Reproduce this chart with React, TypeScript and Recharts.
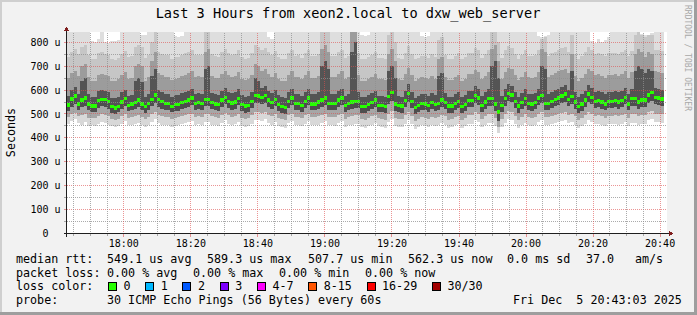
import React from 'react';
import { ComposedChart, Bar, XAxis, YAxis, CartesianGrid, ReferenceLine } from 'recharts';

// one value per minute, 17:43 -> 20:42 (microseconds)
const medianRtt = [
  537, 562, 575, 542, 558, 567, 542, 533, 533, 556,
  561, 561, 553, 530, 525, 532, 550, 564, 536, 542,
  549, 558, 542, 530, 543, 561, 580, 561, 553, 544,
  544, 531, 539, 539, 547, 553, 558, 567, 544, 547,
  543, 561, 561, 547, 542, 540, 558, 569, 553, 546,
  550, 565, 539, 533, 536, 553, 576, 575, 569, 578,
  558, 547, 561, 539, 531, 528, 553, 567, 544, 544,
  536, 553, 567, 542, 542, 550, 558, 567, 544, 544,
  544, 558, 567, 536, 544, 550, 553, 553, 531, 531,
  539, 547, 558, 536, 536, 531, 572, 589, 542, 536,
  533, 556, 585, 553, 528, 536, 544, 542, 536, 549,
  539, 544, 558, 547, 533, 533, 544, 553, 531, 539,
  556, 556, 578, 567, 536, 550, 564, 564, 542, 508,
  536, 564, 586, 580, 553, 533, 547, 564, 544, 542,
  547, 567, 578, 544, 544, 553, 561, 567, 575, 583,
  561, 572, 550, 531, 542, 558, 583, 569, 553, 556,
  550, 542, 553, 553, 556, 550, 556, 569, 542, 564,
  564, 550, 558, 558, 579, 589, 569, 567, 562,
];

// smoke: lowest ping
const smokeMin = [
  460, 470, 478, 462, 455, 468, 450, 452, 448, 460,
  466, 462, 455, 448, 445, 450, 458, 470, 452, 455,
  458, 462, 454, 444, 452, 466, 478, 462, 456, 452,
  456, 446, 450, 452, 458, 462, 466, 470, 452, 458,
  452, 466, 468, 456, 452, 448, 462, 474, 460, 455,
  458, 468, 450, 444, 448, 460, 476, 476, 470, 478,
  462, 456, 466, 450, 444, 440, 462, 470, 452, 455,
  448, 460, 470, 452, 452, 456, 462, 470, 452, 454,
  450, 462, 470, 446, 452, 456, 460, 460, 444, 442,
  450, 456, 462, 448, 444, 440, 466, 478, 448, 444,
  444, 460, 476, 458, 438, 444, 452, 450, 446, 454,
  450, 452, 462, 456, 442, 444, 452, 458, 440, 448,
  460, 460, 474, 468, 446, 456, 464, 464, 448, 420,
  446, 464, 478, 476, 458, 442, 454, 464, 452, 450,
  454, 466, 474, 452, 452, 458, 462, 466, 472, 476,
  462, 468, 456, 442, 450, 460, 476, 468, 458, 460,
  456, 450, 458, 458, 460, 456, 460, 468, 450, 464,
  464, 456, 460, 460, 474, 478, 468, 466, 464,
];

// smoke: lower light / mid boundary
const smokeLo = [
  488, 500, 505, 490, 495, 498, 485, 482, 484, 492,
  498, 496, 490, 478, 475, 480, 490, 500, 484, 486,
  490, 496, 486, 478, 486, 498, 510, 496, 490, 486,
  488, 480, 484, 486, 490, 494, 498, 502, 486, 490,
  486, 498, 500, 490, 486, 484, 496, 504, 494, 488,
  490, 500, 484, 478, 482, 494, 508, 508, 504, 510,
  496, 490, 498, 484, 478, 474, 494, 502, 486, 488,
  482, 494, 502, 486, 486, 490, 496, 502, 486, 487,
  486, 496, 502, 480, 486, 490, 494, 494, 478, 476,
  484, 490, 496, 482, 480, 476, 500, 512, 482, 478,
  478, 494, 510, 492, 472, 478, 486, 485, 480, 488,
  484, 486, 496, 490, 476, 478, 486, 492, 476, 482,
  494, 494, 508, 502, 480, 490, 498, 498, 482, 445,
  480, 498, 512, 510, 492, 476, 488, 498, 486, 484,
  488, 500, 508, 486, 486, 492, 496, 500, 506, 510,
  496, 502, 490, 476, 484, 494, 510, 502, 492, 494,
  490, 484, 492, 492, 494, 490, 494, 502, 484, 498,
  498, 490, 494, 494, 508, 512, 502, 500, 498,
];

// smoke: bottom of the dark band under the median
const smokeDown = [
  512, 530, 540, 518, 528, 535, 515, 508, 510, 525,
  532, 530, 522, 505, 500, 508, 520, 534, 512, 515,
  520, 530, 515, 505, 515, 532, 548, 530, 522, 516,
  518, 507, 512, 514, 520, 526, 530, 538, 516, 520,
  515, 532, 534, 520, 515, 512, 530, 540, 525, 518,
  522, 536, 512, 506, 510, 525, 545, 546, 540, 548,
  530, 520, 532, 512, 505, 500, 525, 538, 516, 518,
  510, 525, 538, 515, 515, 522, 530, 538, 516, 517,
  516, 530, 538, 508, 516, 522, 525, 526, 505, 504,
  512, 520, 530, 510, 508, 505, 540, 555, 512, 508,
  506, 528, 552, 525, 500, 508, 516, 515, 508, 520,
  512, 516, 530, 520, 505, 506, 516, 525, 504, 512,
  528, 528, 548, 538, 508, 522, 535, 535, 512, 470,
  508, 535, 555, 550, 525, 505, 520, 535, 516, 514,
  520, 538, 548, 516, 516, 525, 532, 538, 545, 552,
  532, 542, 522, 504, 514, 530, 552, 540, 525, 528,
  522, 515, 525, 525, 528, 522, 528, 540, 515, 535,
  535, 522, 530, 530, 548, 556, 540, 538, 534,
];

// smoke: top of the dark band over the median
const smokeUp = [
  575, 600, 612, 585, 640, 650, 582, 572, 570, 596,
  600, 598, 590, 568, 565, 572, 590, 602, 576, 580,
  640, 650, 635, 570, 584, 660, 690, 600, 592, 584,
  584, 570, 578, 578, 586, 592, 598, 606, 584, 586,
  584, 690, 700, 588, 582, 580, 598, 608, 592, 586,
  590, 604, 578, 572, 576, 592, 650, 640, 608, 616,
  598, 586, 600, 578, 570, 568, 592, 606, 584, 584,
  576, 592, 606, 582, 582, 590, 700, 720, 690, 584,
  584, 598, 606, 576, 584, 760, 800, 592, 570, 570,
  578, 586, 598, 576, 576, 572, 680, 700, 650, 576,
  572, 596, 624, 592, 568, 576, 584, 582, 576, 588,
  578, 660, 670, 586, 572, 572, 584, 592, 570, 578,
  596, 596, 616, 606, 576, 590, 604, 700, 720, 650,
  576, 604, 624, 618, 592, 572, 586, 604, 584, 582,
  586, 606, 700, 690, 584, 592, 600, 606, 614, 620,
  600, 680, 590, 570, 582, 598, 620, 608, 592, 596,
  590, 582, 592, 592, 596, 590, 596, 608, 582, 604,
  680, 700, 690, 670, 690, 680, 608, 606, 602,
];

// smoke: top of the mid grey band
const smokeMid = [
  650, 670, 680, 660, 700, 710, 655, 640, 638, 665,
  668, 665, 660, 640, 636, 645, 662, 675, 648, 652,
  700, 710, 700, 640, 655, 720, 760, 670, 662, 655,
  655, 642, 648, 650, 658, 664, 670, 678, 655, 658,
  655, 760, 770, 660, 652, 650, 668, 680, 664, 656,
  660, 676, 648, 642, 646, 664, 710, 700, 678, 688,
  668, 656, 672, 648, 640, 638, 664, 678, 654, 655,
  646, 664, 678, 652, 652, 660, 770, 790, 760, 654,
  654, 668, 678, 646, 654, 843, 843, 664, 640, 640,
  648, 656, 668, 646, 646, 642, 750, 770, 720, 646,
  642, 666, 694, 662, 638, 646, 654, 652, 646, 660,
  648, 730, 740, 656, 642, 642, 654, 664, 640, 648,
  666, 666, 686, 676, 646, 660, 676, 770, 790, 720,
  646, 676, 694, 688, 662, 642, 656, 676, 654, 652,
  656, 676, 770, 760, 654, 664, 670, 678, 684, 690,
  670, 750, 660, 640, 652, 668, 690, 678, 662, 666,
  660, 652, 664, 664, 666, 660, 668, 678, 652, 674,
  750, 770, 760, 740, 760, 750, 678, 676, 672,
];

// smoke: top of the light-mid band
const smokeHi = [
  740, 760, 770, 750, 780, 790, 745, 730, 728, 755,
  758, 750, 745, 730, 726, 735, 752, 765, 738, 742,
  780, 790, 780, 735, 745, 800, 843, 760, 752, 745,
  745, 732, 738, 740, 748, 754, 760, 768, 745, 748,
  745, 843, 843, 750, 742, 740, 758, 770, 754, 746,
  750, 766, 738, 732, 736, 754, 790, 780, 768, 778,
  758, 746, 762, 738, 730, 728, 754, 768, 744, 745,
  736, 754, 768, 742, 742, 750, 843, 843, 843, 744,
  744, 758, 768, 736, 744, 843, 843, 754, 730, 730,
  738, 746, 758, 736, 736, 732, 830, 843, 800, 736,
  732, 756, 784, 752, 728, 736, 744, 742, 736, 750,
  738, 810, 820, 746, 732, 732, 744, 754, 730, 738,
  756, 756, 776, 766, 736, 750, 766, 843, 843, 800,
  736, 766, 784, 778, 752, 732, 746, 766, 744, 742,
  746, 766, 815, 820, 744, 754, 760, 768, 774, 780,
  760, 830, 750, 730, 742, 758, 780, 768, 752, 756,
  750, 742, 754, 754, 756, 750, 758, 768, 742, 764,
  830, 843, 830, 820, 830, 830, 768, 766, 762,
];

// smoke: highest ping (843 = off the top of the graph)
const smokeMax = [
  843, 843, 843, 843, 843, 843, 843, 805, 800, 815,
  843, 800, 796, 805, 805, 810, 843, 843, 843, 843,
  843, 843, 832, 830, 843, 843, 843, 843, 843, 843,
  843, 843, 825, 822, 828, 843, 843, 843, 843, 843,
  843, 843, 843, 843, 843, 843, 843, 843, 843, 843,
  843, 843, 843, 843, 843, 843, 843, 843, 843, 843,
  820, 815, 843, 843, 843, 843, 843, 843, 843, 843,
  843, 843, 843, 843, 843, 843, 843, 843, 843, 843,
  843, 843, 843, 843, 843, 843, 843, 843, 830, 826,
  832, 843, 843, 843, 843, 843, 843, 843, 843, 843,
  843, 843, 843, 843, 843, 843, 825, 820, 828, 843,
  843, 843, 843, 843, 843, 843, 843, 843, 843, 843,
  843, 843, 843, 843, 843, 843, 843, 843, 843, 843,
  843, 843, 843, 843, 843, 843, 843, 843, 843, 843,
  843, 828, 820, 825, 830, 843, 843, 843, 843, 843,
  843, 843, 843, 843, 843, 843, 843, 805, 796, 815,
  800, 810, 820, 843, 843, 843, 843, 843, 843, 843,
  843, 843, 835, 830, 832, 838, 843, 843, 843,
];

const yTickValues = [0, 100, 200, 300, 400, 500, 600, 700, 800];
const yTickLabels = ['0  ', '100 u', '200 u', '300 u', '400 u', '500 u', '600 u', '700 u', '800 u'];
const xTickLabels = ['18:00', '18:20', '18:40', '19:00', '19:20', '19:40', '20:00', '20:20', '20:40'];

const lossLabels = ['0', '1', '2', '3', '4-7', '8-15', '16-29', '30/30'];
const lossColors = ['#26ff00', '#00b8ff', '#0059ff', '#7e00ff', '#ff00ff', '#ff5500', '#ff0000', '#a10000'];

const MONO = "'DejaVu Sans Mono', monospace";
const GRID = 'rgba(143,143,143,0.75)';
const MGRID = 'rgba(222,79,79,0.6)';
const START = 17 * 60 + 43 + 3 / 60; // 17:43:03
const GREEN_HALF = 7;
const TOP = 843;
const AXIS_Y = 233.5;

const toT = (hhmm: string) => {
  const [h, m] = hhmm.split(':').map(Number);
  return h * 60 + m - START;
};
const majorTicks = xTickLabels.map(toT);
const minorTicks: number[] = [];
for (let c = 17 * 60 + 45; c <= 20 * 60 + 40; c += 5) {
  if (c % 20 !== 0) minorTicks.push(c - START);
}
const allXTicks = [...minorTicks, ...majorTicks].sort((a, b) => a - b);
const minorY: number[] = [];
for (let v = 50; v < TOP; v += 100) minorY.push(v);

const rows = Array.from({ length: 180 }, (_, i) => {
  const m = medianRtt[i];
  if (m === undefined) return { idx: i };
  return {
    idx: i,
    base: smokeMin[i],
    lowLight: smokeLo[i] - smokeMin[i],
    lowMid: smokeDown[i] - smokeLo[i],
    lowDark: Math.max(0, m - GREEN_HALF - smokeDown[i]),
    green: GREEN_HALF * 2,
    upDark: Math.max(0, smokeUp[i] - m - GREEN_HALF),
    upMid: smokeMid[i] - smokeUp[i],
    upLight: smokeHi[i] - smokeMid[i],
    topLight: smokeMax[i] - smokeHi[i],
  };
});

const bands: [string, string][] = [
  ['base', 'transparent'],
  ['lowLight', '#d8d8d8'],
  ['lowMid', '#a6a6a6'],
  ['lowDark', '#4e4e4e'],
  ['green', '#26ff00'],
  ['upDark', '#545454'],
  ['upMid', '#9c9c9c'],
  ['upLight', '#c6c6c6'],
  ['topLight', '#dedede'],
];

const YTick = (props: any) => {
  const { x, y, payload } = props;
  const v = payload.value as number;
  const k = yTickValues.indexOf(v);
  return (
    <g>
      <line x1={x - 3} x2={x} y1={y} y2={y} stroke={k >= 0 ? MGRID : GRID} />
      {k >= 0 && (
        <text x={x - 6.5} y={y + 3.6} textAnchor="end" fontSize={10} fontFamily={MONO} fill="#000" style={{ whiteSpace: 'pre' }}>
          {yTickLabels[k]}
        </text>
      )}
    </g>
  );
};

const XTick = (props: any) => {
  const { x, payload } = props;
  const k = majorTicks.findIndex((t) => Math.abs(t - payload.value) < 1e-6);
  return (
    <g>
      <line x1={x} x2={x} y1={AXIS_Y} y2={AXIS_Y + (k >= 0 ? 3 : 2)} stroke={k >= 0 ? MGRID : GRID} />
      {k >= 0 && (
        <text x={x} y={AXIS_Y + 13} textAnchor="middle" fontSize={10} fontFamily={MONO} fill="#000">
          {xTickLabels[k]}
        </text>
      )}
    </g>
  );
};

const legendLine = { fontSize: 11.7, fontFamily: MONO, fill: '#000', style: { whiteSpace: 'pre' as const } };

const LossLegend = () => {
  let x = 108.5;
  return (
    <g>
      <text x={16} y={290} {...legendLine}>loss color:</text>
      {lossLabels.map((lab, i) => {
        const bx = x;
        x += 30.2 + lab.length * 7.03;
        return (
          <g key={lab}>
            <rect x={bx} y={282.5} width={8} height={8} fill={lossColors[i]} stroke="#000" strokeWidth={1} />
            <text x={bx + 15} y={290} {...legendLine}>{lab}</text>
          </g>
        );
      })}
    </g>
  );
};

const line1: [number, string][] = [
  [16, 'median rtt:'], [107, '549.1 us avg'], [207, '589.3 us max'], [308, '507.7 us min'],
  [408, '562.3 us now'], [507, '0.0 ms sd'], [586, '37.0'], [635, 'am/s'],
];
const line2: [number, string][] = [
  [16, 'packet loss:'], [107, '0.00 % avg'], [193, '0.00 % max'], [279, '0.00 % min'], [365, '0.00 % now'],
];
const line4: [number, string][] = [
  [16, 'probe:'], [107, '30 ICMP Echo Pings (56 Bytes) every 60s'], [513, 'Fri Dec  5 20:43:03 2025'],
];

export default function App() {
  return (
    <div style={{ position: 'absolute', left: 0, top: 0, width: 697, height: 315, background: '#f2f2f2', shapeRendering: 'crispEdges' } as any}>
      <ComposedChart
        width={697}
        height={315}
        data={rows}
        margin={{ top: 32, right: 30, bottom: 51.5, left: 7 }}
        barCategoryGap={0}
        barGap={0}
        style={{ position: 'absolute', left: 0, top: 0 }}
      >
        <CartesianGrid xAxisId="time" fill="#ffffff" stroke="none" horizontal={false} vertical={false} />
        <XAxis
          xAxisId="time"
          type="number"
          domain={[0, 180]}
          allowDataOverflow
          ticks={allXTicks}
          interval={0}
          tickLine={false}
          axisLine={false}
          tickSize={0}
          tickMargin={0}
          height={30}
          tick={<XTick />}
        />
        <XAxis xAxisId="cat" dataKey="idx" type="category" hide height={0} />
        <YAxis
          type="number"
          domain={[0, TOP]}
          allowDataOverflow
          ticks={[0, 50, 100, 150, 200, 250, 300, 350, 400, 450, 500, 550, 600, 650, 700, 750, 800]}
          interval={0}
          tickLine={false}
          axisLine={false}
          tickSize={0}
          tickMargin={0}
          width={60}
          tick={<YTick />}
        />
        {bands.map(([key, color]) => (
          <Bar key={key} xAxisId="cat" dataKey={key} stackId="smoke" fill={color} barSize={3.33} isAnimationActive={false} />
        ))}
        {minorY.map((v) => (
          <ReferenceLine key={'hy' + v} xAxisId="time" y={v} stroke={GRID} strokeDasharray="1 1" />
        ))}
        {yTickValues.slice(1).map((v) => (
          <ReferenceLine key={'hY' + v} xAxisId="time" y={v} stroke={MGRID} strokeDasharray="1 1" />
        ))}
        {minorTicks.map((t) => (
          <ReferenceLine key={'vx' + t} xAxisId="time" x={t} stroke={GRID} strokeDasharray="1 1" />
        ))}
        {majorTicks.map((t) => (
          <ReferenceLine key={'vX' + t} xAxisId="time" x={t} stroke={MGRID} strokeDasharray="1 1" />
        ))}
      </ComposedChart>
      <svg width={697} height={315} style={{ position: 'absolute', left: 0, top: 0, pointerEvents: 'none' }}>
        {/* frame */}
        <rect x={0} y={0} width={697} height={2} fill="#cfcfcf" />
        <rect x={0} y={0} width={2} height={315} fill="#cfcfcf" />
        <rect x={0} y={312} width={697} height={3} fill="#9e9e9e" />
        <rect x={694} y={0} width={3} height={315} fill="#9e9e9e" />
        {/* axes */}
        <line x1={66.5} x2={66.5} y1={30} y2={236.5} stroke="#1f1f1f" />
        <line x1={64} x2={669} y1={AXIS_Y} y2={AXIS_Y} stroke="#1f1f1f" />
        <polygon points="66.5,26.5 64,31 69,31" fill="#801f1f" />
        <polygon points="673.5,233.5 669,231 669,236" fill="#801f1f" />
        {/* title */}
        <text x={348} y={17.5} textAnchor="middle" fontSize={13.6} fontFamily={MONO} fill="#000">
          Last 3 Hours from xeon2.local to dxw_web_server
        </text>
        <text transform="translate(14.5,132.5) rotate(-90)" textAnchor="middle" fontSize={11.7} fontFamily={MONO} fill="#000">
          Seconds
        </text>
        <text transform="translate(685,5) rotate(90)" fontSize={8} fontFamily={MONO} fill="#a8a8a8">
          RRDTOOL / TOBI OETIKER
        </text>
        {line1.map(([x, s]) => (
          <text key={s} x={x} y={263.3} {...legendLine}>{s}</text>
        ))}
        {line2.map(([x, s]) => (
          <text key={s + x} x={x} y={276.7} {...legendLine}>{s}</text>
        ))}
        <LossLegend />
        {line4.map(([x, s]) => (
          <text key={s} x={x} y={303.5} {...legendLine}>{s}</text>
        ))}
      </svg>
    </div>
  );
}
